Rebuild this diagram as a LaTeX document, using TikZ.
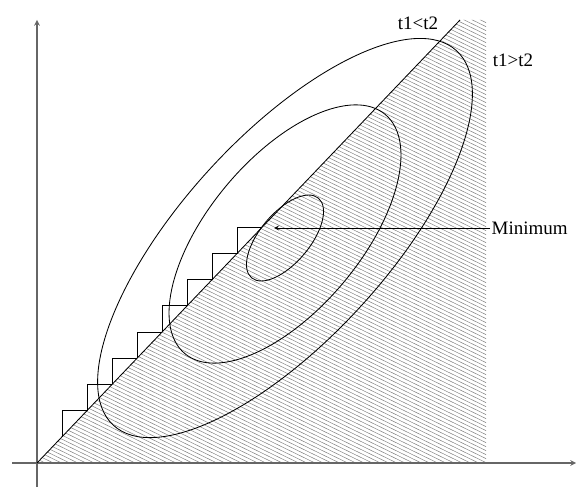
\documentclass[tikz,border=0pt]{standalone}
\usepackage{fontspec}
\setmainfont{Liberation Serif}
\usepackage{tikz}
\usetikzlibrary{arrows.meta}

\def\slope{1.0473}
\tikzset{
  axis/.style={draw=gray!80!black,line width=0.8pt},
  hatch/.style={draw=gray,line width=0.35pt},
  curve/.style={draw=black,line width=0.6pt},
  stair/.style={draw=black,line width=0.6pt},
  lab/.style={font=\fontsize{13.5}{16}\selectfont,inner sep=1pt}
}

\begin{document}
\begin{tikzpicture}[>=stealth,x=0.025cm,y=0.025cm]
\useasboundingbox (-37,-24) rectangle (539,463);
\coordinate (o) at (0,0);
\coordinate (top) at (423,443);
\coordinate (centre) at (248,225);
\begin{scope}
\clip (o)--(top)--(449,443)--(449,0)--cycle;
\foreach \c in {0,4,...,680}
  \draw[hatch] (0,\c)--(460,\c-225);
\end{scope}
\draw[axis,->] (-25,0)--(539,0);
\draw[axis,->] (0,-24)--(0,443);
\draw[curve] (o)--(top);
\foreach \i in {1,...,8}
  \draw[stair] ({25*\i},{\slope*25*\i}) |- ({25*(\i+1)},{\slope*25*(\i+1)});
\draw[curve,rotate around={47.5:(centre)}] (centre) ellipse[x radius=254,y radius=102];
\draw[curve,rotate around={50:(248,229)}] (248,229) ellipse[x radius=156,y radius=76];
\draw[curve,rotate around={50:(centre)}] (centre) ellipse[x radius=52,y radius=25];
\node[lab] (lt) at (381,440) {t1<t2};
\node[lab] (gt) at (476,403) {t1>t2};
\node[lab,anchor=west] (minimum) at (453,235) {Minimum};
\draw[curve,->] (minimum.west)--(237,235);
\end{tikzpicture}
\end{document}
